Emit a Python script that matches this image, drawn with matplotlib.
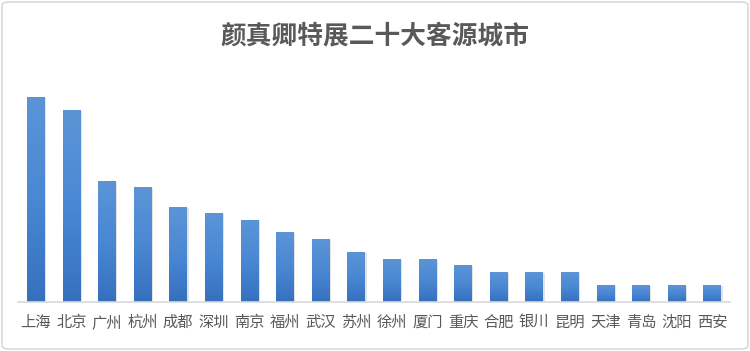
import matplotlib
matplotlib.use("Agg")
import matplotlib.pyplot as plt
import numpy as np
from matplotlib.patches import FancyBboxPatch
from matplotlib.colors import LinearSegmentedColormap

plt.rcParams['font.family'] = ['Noto Sans CJK SC', 'DejaVu Sans']

title = "颜真卿特展二十大客源城市"
cities = ["上海", "北京", "广州", "杭州", "成都", "深圳", "南京", "福州", "武汉", "苏州",
          "徐州", "厦门", "重庆", "合肥", "银川", "昆明", "天津", "青岛", "沈阳", "西安"]
values = [205, 192, 121, 115, 95, 89, 82, 70, 63, 50,
          43, 43, 37, 30, 30, 30, 17, 17, 17, 17]

W, H = 750, 351
fig = plt.figure(figsize=(W / 100, H / 100), dpi=100)

# border
fig.patches.append(FancyBboxPatch((2 / W, 2 / H), 1 - 4 / W, 1 - 4 / H,
                                  boxstyle="round,pad=0,rounding_size=0.01",
                                  transform=fig.transFigure, fill=False,
                                  edgecolor="#d9d9d9", linewidth=1.2))

ax_left, ax_right = 18 / W, 730 / W
ax_bottom, ax_top = (H - 302) / H, (H - 80) / H
ax = fig.add_axes([ax_left, ax_bottom, ax_right - ax_left, ax_top - ax_bottom])

ymax = max(values) * (302 - 80) / (302 - 97)
x = np.arange(len(cities))
width = 0.5
cmap = LinearSegmentedColormap.from_list("g", ["#3570bd", "#4a88d4", "#5c94d6"])
grad = np.linspace(0, 1, 256).reshape(-1, 1)

# shadows
for xi, v in zip(x, values):
    ax.bar(xi + 0.04, v, width=width, color="#b0b0b0", alpha=0.35, zorder=1,
           bottom=-0.5)
bars = ax.bar(x, values, width=width, color="none", zorder=2)
for b in bars:
    x0, y0 = b.get_x(), b.get_y()
    w, h = b.get_width(), b.get_height()
    im = ax.imshow(grad, cmap=cmap, origin="lower", aspect="auto",
                   extent=[x0, x0 + w, y0, y0 + h], zorder=2)
    im.set_clip_path(b)

ax.set_xlim(-0.5, len(cities) - 0.5)
ax.set_ylim(0, ymax)
for s in ["top", "right", "left"]:
    ax.spines[s].set_visible(False)
ax.spines["bottom"].set_color("#d9d9d9")
ax.spines["bottom"].set_linewidth(1.2)
ax.set_yticks([])
ax.set_xticks(x)
ax.set_xticklabels(cities, fontsize=11, color="#595959")
ax.tick_params(axis="x", length=0, pad=8.5)

fig.text(0.5, (H - 36) / H, title, ha="center", va="center", fontsize=18.5,
         fontweight="bold", color="#595959")

fig.savefig("out.png", dpi=100)
